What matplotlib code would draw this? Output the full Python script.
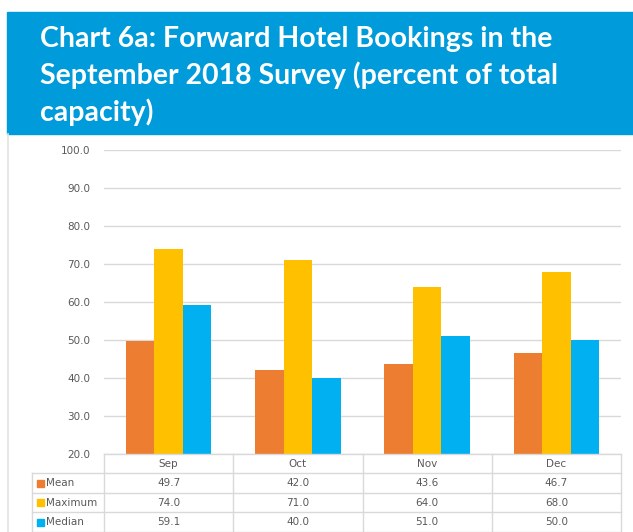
import matplotlib.pyplot as plt
from matplotlib.patches import Rectangle
from matplotlib.lines import Line2D
from matplotlib.transforms import blended_transform_factory
import numpy as np

months = ["Sep", "Oct", "Nov", "Dec"]
series = ["Mean", "Maximum", "Median"]
mean = [49.7, 42.0, 43.6, 46.7]
maximum = [74.0, 71.0, 64.0, 68.0]
median = [59.1, 40.0, 51.0, 50.0]
colors = ["#ED7D31", "#FFC000", "#00B0F0"]
yticks = [20, 30, 40, 50, 60, 70, 80, 90, 100]

W, H = 633, 532
fig = plt.figure(figsize=(W / 100, H / 100), dpi=100)


def fx(px):
    return px / W


def fy(py):
    return 1 - py / H


# title banner
fig.patches.append(Rectangle((fx(7), fy(134)), fx(640 - 7), fy(12) - fy(134),
                             transform=fig.transFigure, color="#009BDA", zorder=0))
fig.text(fx(40), fy(26), "Chart 6a: Forward Hotel Bookings in the\nSeptember 2018 Survey (percent of total\ncapacity)",
         color="white", fontsize=20.5, fontweight="bold", family="Lato",
         va="top", ha="left", linespacing=1.42)
fig.lines.append(Line2D([fx(8), fx(8)], [fy(134), 0], transform=fig.transFigure,
                        color="#E3E3E3", lw=1.2))

grid_c = "#D9D9D9"
txt_c = "#595959"

ax = fig.add_axes([fx(104), fy(454), fx(621) - fx(104), fy(150) - fy(454)])
x = np.arange(len(months))
w = 0.22
for i, (vals, c) in enumerate(zip([mean, maximum, median], colors)):
    ax.bar(x + (i - 1) * w, vals, width=w, color=c, zorder=3)

ax.set_xlim(-0.5, len(months) - 0.5)
ax.set_ylim(20, 100)
ax.set_yticks(yticks)
ax.set_yticklabels([f"{v:.1f}" for v in yticks], color=txt_c, fontsize=7.5)
ax.tick_params(axis="y", length=0, pad=10)
ax.set_xticks([])
ax.grid(axis="y", color=grid_c, lw=1, zorder=0)
for s in ax.spines.values():
    s.set_visible(False)

# data table under the chart
tr = blended_transform_factory(ax.transData, fig.transFigure)
row_edges = [454, 473, 493, 512, 532]
for k in range(len(months) + 1):
    ax.add_line(Line2D([k - 0.5, k - 0.5], [fy(454), 0], transform=tr,
                       color=grid_c, lw=1, clip_on=False))
fig.lines.append(Line2D([fx(32), fx(32)], [fy(473), 0], transform=fig.transFigure,
                        color=grid_c, lw=1))
fig.lines.append(Line2D([fx(104), fx(621)], [fy(454), fy(454)], transform=fig.transFigure,
                        color=grid_c, lw=1))
for py in row_edges[1:]:
    fig.lines.append(Line2D([fx(32), fx(621)], [fy(py), fy(py)], transform=fig.transFigure,
                            color=grid_c, lw=1))

for k, m in enumerate(months):
    ax.text(k, fy(464), m, transform=tr, ha="center", va="center",
            fontsize=7.5, color=txt_c, clip_on=False)

for r, (name, vals, c) in enumerate(zip(series, [mean, maximum, median], colors)):
    yc = (row_edges[r + 1] + row_edges[r + 2]) / 2
    fig.patches.append(Rectangle((fx(37), fy(yc + 3.5)), fx(7), fy(yc - 3.5) - fy(yc + 3.5),
                                 transform=fig.transFigure, color=c))
    fig.text(fx(46), fy(yc), name, ha="left", va="center", fontsize=7.5, color=txt_c)
    for k, v in enumerate(vals):
        ax.text(k, fy(yc), f"{v:.1f}", transform=tr, ha="center", va="center",
                fontsize=7.5, color=txt_c, clip_on=False)

fig.savefig("out.png", dpi=100)
